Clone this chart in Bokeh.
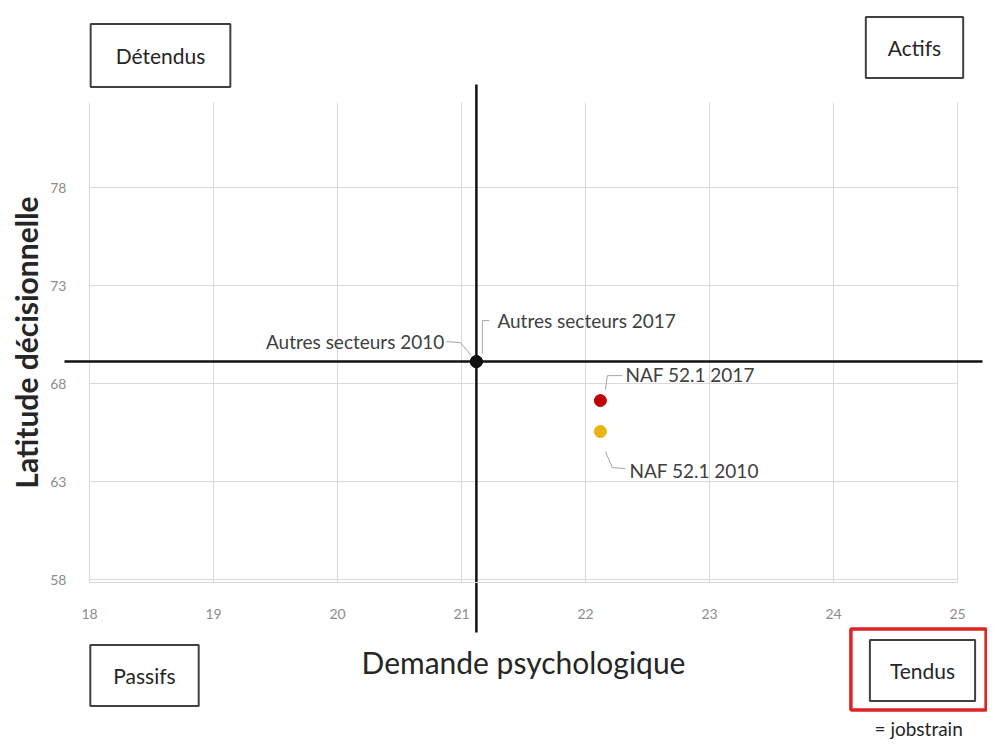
from bokeh.plotting import figure
from bokeh.models import Range1d, FixedTicker, Label, LinearAxis
from bokeh.core.properties import value
from bokeh.embed import file_html
from bokeh.resources import INLINE

# ---- data ----
categories = ["Autres secteurs 2010", "Autres secteurs 2017", "NAF 52.1 2017", "NAF 52.1 2010"]
demande = [21.12, 21.12, 22.12, 22.12]
latitude = [69.12, 69.12, 67.13, 65.55]
point_colors = ["#111111", "#111111", "#c00000", "#e8b410"]
x_ticks = [18, 19, 20, 21, 22, 23, 24, 25]
y_ticks = [58, 63, 68, 73, 78]
quadrants = ["Détendus", "Actifs", "Passifs", "Tendus"]
mean_demande = 21.12
mean_latitude = 69.12

# ---- layout: the frame covers the whole canvas, axes are pinned inside it ----
W, H = 987, 739
PXX, PXY = 124.0, 19.6            # pixels per data unit
AX_X0, AX_X1 = 18, 25             # plotted x span
AX_Y0, AX_Y1 = 57.85, 82.34       # plotted y span
CX0, CY0 = 89, 582                # canvas position of (AX_X0, AX_Y0)
XS = AX_X0 - CX0 / PXX
XE = XS + W / PXX
YE = AX_Y0 + CY0 / PXY
YS = YE - H / PXY


def px_x(ix):   # reference-image x pixel -> data
    return XS + (ix - 8) / PXX


def px_y(iy):   # reference-image y pixel -> data
    return YE - (iy - 8) / PXY


FONT = "Lato"

p = figure(width=W, height=H, output_backend="svg", toolbar_location=None,
           x_range=Range1d(XS, XE), y_range=Range1d(YS, YE),
           x_axis_location=None, y_axis_location=None, min_border=0)
p.outline_line_color = None
p.background_fill_color = "white"
p.grid.visible = False

# grid lines limited to the plotted area
p.segment(x0=x_ticks, y0=[AX_Y0] * len(x_ticks), x1=x_ticks, y1=[AX_Y1] * len(x_ticks),
          line_color="#d9d9d9", line_width=1)
p.segment(x0=[AX_X0] * len(y_ticks), y0=y_ticks, x1=[AX_X1] * len(y_ticks), y1=y_ticks,
          line_color="#d9d9d9", line_width=1)

xaxis = LinearAxis(fixed_location=AX_Y0, bounds=(AX_X0, AX_X1),
                   ticker=FixedTicker(ticks=x_ticks))
yaxis = LinearAxis(fixed_location=AX_X0, bounds=(AX_Y0, AX_Y1),
                   ticker=FixedTicker(ticks=y_ticks))
p.add_layout(xaxis, "below")
p.add_layout(yaxis, "left")
for ax in (xaxis, yaxis):
    ax.major_tick_line_color = None
    ax.minor_tick_line_color = None
    ax.major_label_text_font = FONT
    ax.major_label_text_font_size = "14px"
    ax.major_label_text_color = "#8c8c8c"
    ax.axis_label_text_font = FONT
    ax.axis_label_text_color = "#262626"
xaxis.axis_line_color = "#d9d9d9"
yaxis.axis_line_color = None
xaxis.major_label_standoff = 20
yaxis.major_label_standoff = 17
xaxis.axis_label = "Demande psychologique"
xaxis.axis_label_text_font_size = "30px"
xaxis.axis_label_text_font_style = "normal"
xaxis.axis_label_standoff = 22
yaxis.axis_label = "Latitude décisionnelle"
yaxis.axis_label_text_font_size = "30px"
yaxis.axis_label_text_font_style = "bold"
yaxis.axis_label_standoff = 3

# quadrant dividing lines through the reference population's means
p.segment(x0=[mean_demande], y0=[px_y(640)], x1=[mean_demande], y1=[px_y(92)],
          line_color="#111111", line_width=2.5)
p.segment(x0=[px_x(72)], y0=[mean_latitude], x1=[px_x(990)], y1=[mean_latitude],
          line_color="#111111", line_width=2.5)

# leader lines (pixel offsets from each point)
leaders = [
    [(-30, -20), (-16, -19), (-5, -6)],
    [(13, -41), (6, -41), (6, -8)],
    [(22, -25), (7, -25), (5, -11)],
    [(5, 20), (12, 36), (25, 37)],
]
for xv, yv, pts in zip(demande, latitude, leaders):
    p.line([xv + dx / PXX for dx, dy in pts], [yv - dy / PXY for dx, dy in pts],
           line_color="#a6a6a6", line_width=1)

# points
p.scatter(demande, latitude, size=12, fill_color=point_colors,
          line_color=point_colors, line_width=1)

# point labels
label_style = [("right", -32, -20), ("left", 21, -41), ("left", 25, -26), ("left", 29, 39)]
for name, xv, yv, (al, dx, dy) in zip(categories, demande, latitude, label_style):
    p.text([xv], [yv], text=[name], text_align=al, text_baseline="middle",
           x_offset=dx, y_offset=dy, text_font=value(FONT),
           text_font_size="19px", text_color="#404040")


# quadrant boxes
def box(text, cx, cy, pad, color="#404040", lw=2, text_color="#262626"):
    p.add_layout(Label(x=px_x(cx), y=px_y(cy), text=text,
                       text_align="center", text_baseline="middle",
                       text_font=FONT, text_font_size="21px", text_color=text_color,
                       background_fill_color="white", background_fill_alpha=1.0,
                       border_line_color=color, border_line_width=lw,
                       padding=dict(left=pad[0], right=pad[0], top=pad[1], bottom=pad[1])))


box(quadrants[0], 168, 63, (25, 19))
box(quadrants[1], 922, 55, (22, 18))
box(quadrants[2], 152, 683, (23, 18))
box(quadrants[3], 926, 677, (35, 28), color="#e02424", lw=3.5, text_color="white")
box(quadrants[3], 930, 678, (20, 18))

p.add_layout(Label(x=px_x(882), y=px_y(736), text="= jobstrain",
                   text_align="left", text_baseline="middle",
                   text_font=FONT, text_font_size="19px", text_color="#262626"))

open("out.html", "w").write(file_html(p, INLINE))
